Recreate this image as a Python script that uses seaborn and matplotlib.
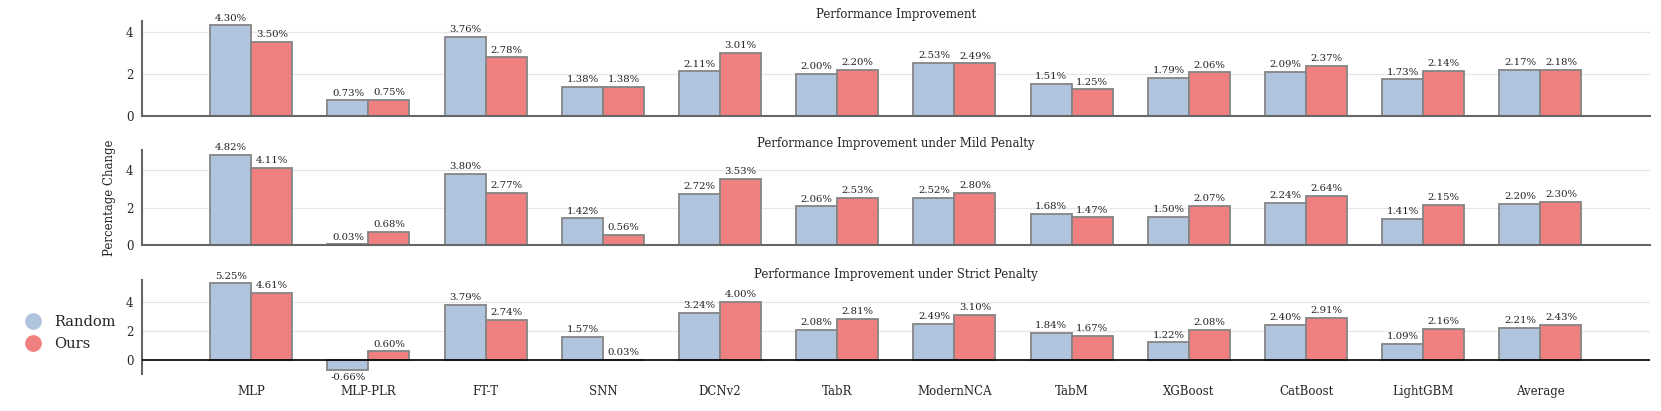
import numpy as np
import pandas as pd
import matplotlib
matplotlib.use("Agg")
import matplotlib.pyplot as plt
import seaborn as sns
from matplotlib.lines import Line2D

sns.set_theme(style="white")
plt.rcParams['font.family'] = ['DejaVu Serif']

# data
models = ['MLP', 'MLP-PLR', 'FT-T', 'SNN', 'DCNv2', 'TabR', 'ModernNCA',
          'TabM', 'XGBoost', 'CatBoost', 'LightGBM', 'Average']
titles = ['Performance Improvement',
          'Performance Improvement under Mild Penalty',
          'Performance Improvement under Strict Penalty']

random_plain = [4.30, 0.73, 3.76, 1.38, 2.11, 2.00, 2.53, 1.51, 1.79, 2.09, 1.73, 2.17]
ours_plain = [3.50, 0.75, 2.78, 1.38, 3.01, 2.20, 2.49, 1.25, 2.06, 2.37, 2.14, 2.18]

random_mild = [4.82, 0.03, 3.80, 1.42, 2.72, 2.06, 2.52, 1.68, 1.50, 2.24, 1.41, 2.20]
ours_mild = [4.11, 0.68, 2.77, 0.56, 3.53, 2.53, 2.80, 1.47, 2.07, 2.64, 2.15, 2.30]

random_strict = [5.25, -0.66, 3.79, 1.57, 3.24, 2.08, 2.49, 1.84, 1.22, 2.40, 1.09, 2.21]
ours_strict = [4.61, 0.60, 2.74, 0.03, 4.00, 2.81, 3.10, 1.67, 2.08, 2.91, 2.16, 2.43]

methods = ['Random', 'Ours']
colors = {'Random': '#B0C4DE', 'Ours': '#F08080'}

panels = [(random_plain, ours_plain), (random_mild, ours_mild), (random_strict, ours_strict)]

fig, axes = plt.subplots(3, 1, figsize=(16.61, 4.11), dpi=100, sharex=True)
plt.subplots_adjust(left=0.0853, right=0.9934, top=0.949, bottom=0.0893, hspace=0.365)

for i, (ax, (rnd, ours)) in enumerate(zip(axes, panels)):
    df = pd.DataFrame({
        'Model': models * 2,
        'Method': ['Random'] * len(models) + ['Ours'] * len(models),
        'Value': rnd + ours,
    })
    sns.barplot(data=df, x='Model', y='Value', hue='Method', hue_order=methods,
                palette=colors, width=0.7, gap=0, edgecolor='#858585',
                linewidth=1.3, saturation=1, legend=False, ax=ax, errorbar=None)

    for cont in ax.containers:
        ax.bar_label(cont, fmt='%.2f%%', padding=2, fontsize=7.3, color='#222222')

    vals = rnd + ours
    top = max(vals) * 1.05
    low = min(vals)
    if low < 0:
        ax.set_ylim(low - 0.31, top)
        ax.axhline(0, color='black', linewidth=1.2, zorder=3)
        ax.spines['bottom'].set_visible(False)
    else:
        ax.set_ylim(0, top)
        ax.spines['bottom'].set_color('#666666')
        ax.spines['bottom'].set_linewidth(1.5)

    ax.set_xlim(-0.935, 11.935)
    ax.set_yticks([0, 2, 4])
    ax.yaxis.grid(True, color='#e6e6e6', linewidth=0.9)
    ax.set_axisbelow(True)
    ax.spines['top'].set_visible(False)
    ax.spines['right'].set_visible(False)
    ax.spines['left'].set_color('#666666')
    ax.spines['left'].set_linewidth(1.5)
    ax.tick_params(axis='y', length=4, width=1.2, color='#666666', labelsize=8.5, pad=2)
    ax.tick_params(axis='x', length=0, labelsize=8.5, pad=8)
    ax.set_title(titles[i], fontsize=8.5, pad=1)
    ax.set_xlabel('')
    ax.set_ylabel('Percentage Change' if i == 1 else '', fontsize=8.5, labelpad=7)

handles = [Line2D([0], [0], marker='o', linestyle='', markersize=11,
                  markerfacecolor=colors[m], markeredgecolor=colors[m], label=m)
           for m in methods]
fig.legend(handles=handles, loc='center left', bbox_to_anchor=(0.003, 0.19),
           frameon=False, fontsize=10.5, handletextpad=0.5, labelspacing=0.55)

plt.savefig('out.png', dpi=100)
